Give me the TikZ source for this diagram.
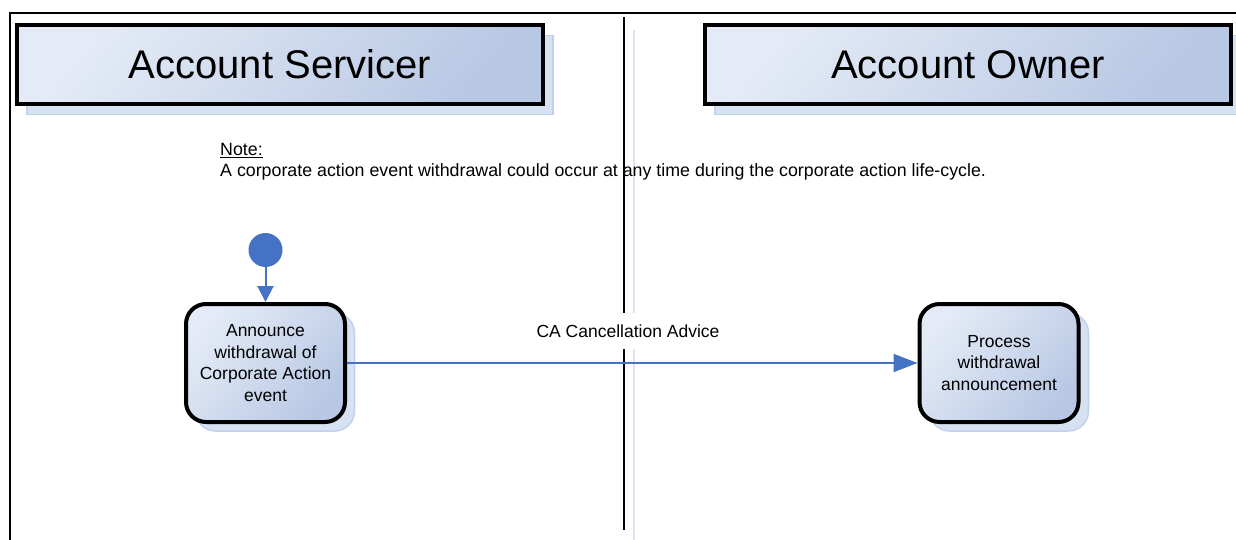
\documentclass[tikz,border=0pt]{standalone}
\usepackage{fontspec}
\setmainfont{Liberation Sans}
\usetikzlibrary{arrows.meta}
\definecolor{gl}{RGB}{228,235,246}
\definecolor{gd}{RGB}{184,200,228}
\definecolor{shad}{RGB}{214,225,241}
\definecolor{shadb}{RGB}{194,210,235}
\definecolor{flow}{RGB}{68,114,196}
\definecolor{lane}{RGB}{218,227,243}
\tikzset{
  grad/.style={top color=gl, bottom color=gd, shading angle=50},
  titlebox/.style={draw=black, line width=4pt, grad,
    minimum width=526pt, minimum height=79pt, inner sep=0pt,
    font=\fontsize{40}{48}\selectfont},
  titleshadow/.style={fill=shad, draw=shadb, line width=1.5pt,
    minimum width=526pt, minimum height=79pt, inner sep=0pt},
  actbox/.style={draw=black, line width=4pt, rounded corners=20pt, grad,
    minimum width=159pt, minimum height=118pt, inner sep=2pt, align=center,
    font=\fontsize{17.5}{21.5}\selectfont},
  actshadow/.style={fill=shad, draw=shadb, line width=1.5pt, rounded corners=20pt,
    minimum width=159pt, minimum height=118pt, inner sep=0pt},
  flowline/.style={draw=flow, line width=2pt},
  notetext/.style={inner sep=0pt, font=\fontsize{17.8}{21}\selectfont},
}
\begin{document}
\begin{tikzpicture}[x=1pt,y=-1pt]
\useasboundingbox (0,0) rectangle (1236,540);
% frame
\draw[line width=2pt] (10,540) -- (10,13) -- (1236,13);
% lane lines
\draw[lane, line width=1.5pt] (634,30) -- (634,540);
% note
\node[notetext, anchor=base west] (noteh) at (220,156) {\underline{Note:}};
\node[notetext, anchor=base west] (note) at (220,177) {A corporate action event withdrawal could occur at any time during the corporate action life-cycle.};
\draw[black, line width=1.5pt] (624,17) -- (624,530);
% titles
\node[titleshadow] (s1) at (290,75) {};
\node[titlebox] (t1) at (280,64.5) {Account Servicer};
\node[titleshadow] (s2) at (978,75) {};
\node[titlebox] (t2) at (968,64.5) {Account Owner};
% activities
\node[actshadow] (as1) at (275,372) {};
\node[actbox] (a1) at (265.5,363) {Announce\\withdrawal of\\Corporate Action\\event};
\node[actshadow] (as2) at (1009,372) {};
\node[actbox] (a2) at (999,363) {Process\\withdrawal\\announcement};
% start
\node[circle, fill=flow, minimum size=34pt, inner sep=0pt] (start) at (265.5,250) {};
\draw[flowline, -{Triangle[length=16pt,width=16pt]}] (start.south) -- (a1.north);
% message
\draw[flowline, -{Triangle[length=24pt,width=18pt]}] (a1.east) -- (a2.west);
\node[fill=white, inner xsep=4pt, inner ysep=12pt, font=\fontsize{17.5}{21}\selectfont] (lbl) at (628,331) {CA Cancellation Advice};
\end{tikzpicture}
\end{document}
